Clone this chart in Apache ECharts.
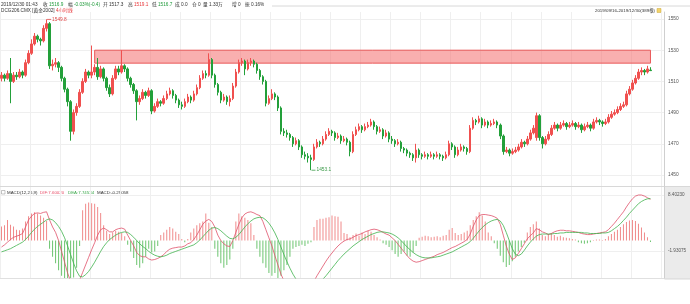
<!DOCTYPE html>
<html><head><meta charset="utf-8">
<script src="https://cdn.jsdelivr.net/npm/echarts@6/dist/echarts.min.js"></script>
<style>html,body{margin:0;padding:0;background:#fff}#c{width:690px;height:304px}</style>
</head><body><div id="c"></div>
<script>
// ---- price data (4-hour candles) ----
const opens = [
1512,1514,1512,1515,1510,1514,1513,1516,1514,1522,
1528,1534,1539,1537,1536,1544,1547,1520,1521,1522,
1519,1512,1505,1497,1478,1490,1494,1503,1510,1516,
1514,1516,1519,1513,1518,1512,1506,1502,1512,1518,
1516,1520,1518,1512,1508,1504,1497,1499,1503,1501,
1504,1491,1494,1497,1496,1499,1502,1504,1501,1498,
1495,1494,1497,1500,1498,1502,1506,1512,1515,1514,
1524,1514,1508,1503,1498,1500,1497,1499,1507,1516,
1522,1523,1518,1522,1523,1521,1517,1513,1510,1496,
1499,1502,1500,1493,1478,1477,1476,1474,1470,1472,
1468,1463,1462,1461,1460,1468,1471,1470,1473,1476,
1478,1477,1474,1475,1472,1473,1471,1465,1476,1479,
1481,1479,1481,1482,1484,1481,1478,1479,1475,1477,
1473,1472,1470,1471,1467,1466,1464,1463,1461,1466,
1463,1462,1463,1462,1463,1462,1463,1462,1461,1463,
1470,1468,1463,1466,1468,1467,1465,1480,1485,1484,
1486,1482,1484,1482,1483,1484,1482,1475,1465,1466,
1464,1465,1466,1468,1471,1470,1473,1477,1474,1488,
1474,1470,1473,1476,1480,1482,1480,1482,1483,1481,
1482,1483,1481,1482,1479,1481,1482,1480,1484,1485,
1484,1483,1484,1487,1489,1490,1492,1494,1495,1502,
1505,1509,1512,1516,1517,1516,1517.3];
const closes = [
1514,1512,1515,1510,1514,1513,1516,1514,1522,1528,
1534,1539,1537,1536,1544,1547,1520,1521,1522,1519,
1512,1505,1497,1478,1490,1494,1503,1510,1516,1514,
1516,1519,1513,1518,1512,1506,1502,1512,1518,1516,
1520,1518,1512,1508,1504,1497,1499,1503,1501,1504,
1491,1494,1497,1496,1499,1502,1504,1501,1498,1495,
1494,1497,1500,1498,1502,1506,1512,1515,1514,1524,
1514,1508,1503,1498,1500,1497,1499,1507,1516,1522,
1523,1518,1522,1523,1521,1517,1513,1510,1496,1499,
1502,1500,1493,1478,1477,1476,1474,1470,1472,1468,
1463,1462,1461,1460,1468,1471,1470,1473,1476,1478,
1477,1474,1475,1472,1473,1471,1465,1476,1479,1481,
1479,1481,1482,1484,1481,1478,1479,1475,1477,1473,
1472,1470,1471,1467,1466,1464,1463,1461,1466,1463,
1462,1463,1462,1463,1462,1463,1462,1461,1463,1470,
1468,1463,1466,1468,1467,1465,1480,1485,1484,1486,
1482,1484,1482,1483,1484,1482,1475,1465,1466,1464,
1465,1466,1468,1471,1470,1473,1477,1480,1488,1474,
1470,1473,1476,1480,1482,1480,1482,1483,1481,1482,
1483,1481,1482,1479,1481,1482,1480,1484,1485,1484,
1483,1484,1487,1489,1490,1492,1494,1495,1502,1505,
1509,1512,1516,1517,1516,1518,1516.9];
const lows = [
1510,1510,1511,1496,1509,1511,1512,1512,1513,1521,
1527,1533,1535,1533,1535,1542,1518,1517,1519,1516,
1510,1503,1494,1472,1476,1488,1493,1502,1509,1512,
1512,1514,1511,1512,1510,1504,1500,1501,1511,1514,
1515,1516,1510,1506,1502,1485,1495,1498,1499,1500,
1489,1490,1493,1494,1495,1498,1501,1499,1496,1493,
1492,1493,1496,1496,1497,1501,1505,1511,1512,1513,
1512,1506,1501,1496,1497,1495,1494,1498,1506,1515,
1520,1514,1517,1520,1519,1515,1511,1508,1494,1495,
1498,1498,1491,1476,1475,1474,1472,1468,1469,1466,
1461,1460,1458,1453.1,1459,1467,1468,1469,1472,1475,
1475,1472,1473,1470,1471,1469,1462,1464,1475,1478,
1477,1478,1480,1481,1479,1476,1477,1473,1474,1471,
1470,1468,1469,1465,1464,1462,1461,1459,1458,1461,
1460,1461,1460,1461,1460,1461,1460,1459,1460,1462,
1466,1461,1462,1465,1465,1463,1464,1479,1482,1483,
1480,1481,1480,1481,1482,1480,1473,1463,1464,1462,
1463,1464,1465,1467,1468,1469,1472,1476,1472,1472,
1467,1469,1472,1475,1479,1478,1479,1481,1479,1480,
1481,1479,1480,1477,1478,1480,1478,1479,1483,1482,
1481,1482,1483,1486,1488,1489,1491,1493,1494,1501,
1504,1508,1511,1514,1514,1515,1516.7];
const highs = [
1516,1515,1517,1525,1516,1516,1518,1517,1524,1530,
1537,1541,1540,1538,1546,1549.8,1548,1524,1525,1523,
1520,1513,1506,1498,1492,1496,1505,1512,1518,1517,
1533,1521,1525,1520,1519,1513,1508,1514,1520,1520,
1530,1521,1519,1513,1509,1505,1501,1505,1504,1506,
1505,1496,1499,1498,1501,1504,1506,1505,1502,1499,
1497,1499,1502,1501,1504,1508,1514,1517,1517,1528,
1525,1515,1509,1504,1502,1501,1501,1509,1518,1524,
1525,1524,1524,1525,1524,1522,1518,1514,1511,1501,
1505,1503,1501,1494,1480,1479,1477,1475,1474,1473,
1469,1465,1464,1463,1470,1473,1472,1475,1478,1480,
1479,1478,1477,1476,1475,1474,1472,1478,1481,1483,
1482,1483,1484,1486,1485,1482,1481,1480,1479,1478,
1475,1473,1473,1472,1468,1467,1465,1464,1470,1467,
1464,1465,1464,1465,1464,1465,1464,1463,1465,1472,
1471,1469,1468,1470,1469,1468,1482,1487,1486,1488,
1487,1486,1485,1485,1486,1485,1483,1476,1468,1467,
1467,1468,1470,1473,1472,1475,1479,1482,1490,1489,
1475,1475,1478,1482,1484,1483,1484,1485,1484,1484,
1485,1484,1484,1483,1483,1484,1483,1486,1487,1486,
1485,1486,1489,1491,1492,1494,1496,1497,1504,1507,
1511,1514,1518,1519,1518,1520,1519.1];

// ---- MACD(12,26,9) ----
const dif = [
-1.2,-0.8,-0.3,0.2,0.6,0.8,1.0,1.3,2.5,3.8,
4.5,5.0,5.1,5.0,5.2,5.3,3.8,2.5,1.5,0.0,
-2.0,-4.0,-6.0,-7.5,-8.5,-8.5,-7.3,-5.9,-4.5,-3.1,
-1.7,-0.4,1.0,2.0,2.3,2.0,1.6,1.6,2.0,2.2,
2.3,2.1,1.0,0.0,-1.0,-2.2,-2.8,-3.0,-3.0,-3.4,
-3.6,-3.5,-3.3,-3.0,-2.6,-2.0,-1.6,-1.4,-1.3,-1.2,
-1.2,-1.0,-0.6,-0.4,0.2,1.0,2.0,3.0,3.6,3.9,
3.5,2.5,1.0,0.0,-0.6,-1.0,-1.1,0.0,1.5,3.0,
4.2,4.9,5.2,5.3,5.1,4.8,4.6,3.5,2.0,0.5,
-1.0,-2.8,-4.5,-6.2,-7.4,-8.0,-8.5,-9.0,-9.2,-9.4,
-9.5,-9.3,-9.0,-8.5,-7.5,-6.5,-5.6,-4.7,-3.8,-3.0,
-2.3,-1.6,-1.0,-0.5,-0.1,0.2,0.3,0.6,0.9,1.1,
1.3,1.6,1.8,2.0,2.1,2.0,1.8,1.5,1.2,1.0,
0.5,0.0,-0.7,-1.4,-2.1,-2.8,-3.4,-3.8,-4.0,-3.9,
-3.7,-3.5,-3.3,-3.1,-2.9,-2.6,-2.4,-2.2,-1.9,-1.6,
-1.3,-1.1,-0.8,-0.5,-0.2,0.2,1.2,2.6,3.8,4.6,
4.8,4.8,4.7,4.6,4.4,4.1,3.0,1.0,-1.0,-2.5,
-3.5,-3.2,-2.4,-1.5,-0.6,0.3,0.9,1.4,2.2,2.0,
1.6,1.4,1.1,1.3,1.6,1.8,1.9,1.9,1.8,1.8,
1.7,1.6,1.5,1.3,1.2,1.1,1.1,1.2,1.3,1.4,
1.5,1.6,2.0,2.6,3.2,3.9,4.6,5.3,6.2,7.0,
7.7,8.2,8.4023,8.4,8.2,7.9,7.60020];
const dea = [
-2.1,-1.9,-1.7,-1.5,-1.2,-0.9,-0.6,-0.3,0.2,0.8,
1.5,2.1,2.6,3.0,3.4,3.8,4.0,3.8,3.3,2.6,
1.7,0.5,-1.0,-2.6,-4.2,-5.6,-6.6,-6.7,-6.3,-5.7,
-4.9,-4.0,-3.0,-2.0,-1.1,-0.4,0.2,0.6,1.0,1.3,
1.5,1.6,1.5,1.1,0.6,0.0,-0.6,-1.1,-1.5,-2.0,
-2.4,-2.7,-2.9,-3.0,-2.9,-2.7,-2.4,-2.2,-2.0,-1.8,
-1.6,-1.4,-1.2,-1.0,-0.8,-0.4,0.1,0.7,1.3,1.9,
2.3,2.4,2.2,1.8,1.3,0.8,0.4,0.3,0.6,1.1,
1.8,2.5,3.1,3.6,4.0,4.2,4.3,4.2,3.8,3.2,
2.4,1.4,0.2,-1.2,-2.6,-3.9,-5.1,-6.2,-7.1,-7.9,
-8.5,-8.9,-9.0,-8.9,-8.6,-8.2,-7.7,-7.1,-6.5,-5.8,
-5.1,-4.4,-3.7,-3.1,-2.5,-2.0,-1.5,-1.0,-0.6,-0.2,
0.2,0.5,0.8,1.1,1.3,1.5,1.6,1.6,1.5,1.4,
1.2,0.9,0.5,0.0,-0.6,-1.2,-1.7,-2.2,-2.6,-2.9,
-3.1,-3.2,-3.2,-3.2,-3.1,-3.0,-2.9,-2.7,-2.5,-2.3,
-2.1,-1.8,-1.5,-1.2,-0.9,-0.6,-0.2,0.4,1.1,1.8,
2.4,2.9,3.3,3.6,3.8,3.9,3.6,2.8,1.5,0.0,
-1.5,-2.5,-2.8,-2.5,-1.8,-1.0,-0.3,0.3,0.8,1.1,
1.2,1.2,1.2,1.2,1.3,1.3,1.4,1.4,1.5,1.5,
1.5,1.5,1.5,1.5,1.4,1.4,1.3,1.3,1.3,1.3,
1.4,1.4,1.5,1.8,2.2,2.6,3.1,3.7,4.3,5.0,
5.6,6.2,6.8,7.2,7.5,7.7,7.74534];
const macdHist = [
2.6,2.8,3.8,2.9,2.6,2.0,1.9,2.2,3.5,4.5,
5.0,5.2,5.0,4.6,4.2,3.6,-1.5,-3.0,-4.2,-5.5,
-6.5,-7.0,-7.5,-7.3,-6.8,-5.0,-1.0,5.6,6.8,7.0,
6.9,6.8,6.2,5.1,2.8,1.8,1.2,1.5,1.8,1.6,
1.4,0.8,-0.8,-2.0,-3.2,-4.5,-5.0,-4.2,-3.0,-1.5,
-2.2,-2.0,-1.0,1.0,1.5,2.0,2.5,2.2,1.6,1.2,
0.3,-0.3,0.3,1.5,2.2,2.8,3.2,3.5,5.0,3.3,
2.5,-1.5,-3.0,-4.2,-5.0,-4.5,-3.5,-1.5,3.5,5.0,
4.5,4.2,3.8,3.2,1.0,-1.5,-3.0,-4.2,-5.0,-6.0,
-6.5,-6.0,-7.0,-6.5,-5.5,-4.5,-3.0,-1.5,-1.2,-1.0,
-0.8,-1.0,-0.6,-0.3,2.5,3.8,4.0,4.0,4.2,4.3,
4.6,4.5,4.4,3.5,1.4,1.2,0.6,1.0,1.3,0.9,
1.5,1.2,1.8,1.6,1.0,0.6,0.2,-0.5,-0.8,-1.2,
-1.8,-2.5,-3.0,-2.5,-2.0,-2.8,-3.0,-2.2,-1.0,0.5,
0.7,0.9,0.8,0.6,0.7,0.8,0.6,0.9,1.0,2.0,
2.3,1.4,1.0,1.2,1.5,1.8,2.8,3.8,4.5,5.2,
4.6,3.5,1.5,0.8,-0.5,-1.5,-2.8,-4.0,-4.9,-4.5,
-3.8,-3.0,-2.0,-1.2,-0.4,1.5,2.5,3.0,3.5,2.2,
1.0,0.8,1.2,1.4,1.0,0.7,0.9,0.6,0.5,0.4,
0.3,0.2,-0.3,-0.5,-0.6,-0.5,-0.3,0.1,0.2,0.2,
0.1,0.3,0.8,1.2,1.6,2.0,2.5,3.0,3.4,3.7,
3.8,3.6,3.1,2.4,1.5,0.6,-0.29058];

const priceTicks = [1450, 1470, 1490, 1510, 1530, 1550];
const macdTicks = [8.40230, -1.93075];
const zonePrices = [1530, 1521.7];   // drawn rectangle
const zoneFrom = 31, zoneTo = 216;    // candle indices of the rectangle
const emptySlots = 4;
const categories = Array.from({length: closes.length + emptySlots}, (_, i) => String(i));

const UP = '#f0504f', DOWN = '#23a03a';
const FONT = "'Liberation Sans','Noto Sans CJK SC',sans-serif";
const GRIDC = '#efefef';

const candles = closes.map((c, i) => [opens[i], c, lows[i], highs[i]]);
const hiIdx = highs.indexOf(Math.max(...highs));
const loIdx = lows.indexOf(Math.min(...lows));

const chart = echarts.init(document.getElementById('c'), null, {renderer: 'canvas'});

function hdrText(x, y, label, value, vColor, fs) {
  return {type: 'text', x: x, y: y, silent: true,
    style: {text: '{k|' + label + '}{v|' + value + '}', fontSize: fs, fontFamily: FONT,
      verticalAlign: 'middle', fill: '#333',
      rich: {k: {fontSize: fs, fontFamily: FONT, fill: '#333'}, v: {fontSize: fs, fontFamily: FONT, fill: vColor}}}};
}
const FS = 4.7, FS2 = 4.4;
const G = '#1f9a3a', R = '#e8373a', K = '#333';
const graphics = [
  {type: 'rect', z: -10, silent: true, shape: {x: 664.5, y: 187, width: 26, height: 93}, style: {fill: '#ebebeb'}},
  {type: 'line', silent: true, shape: {x1: 272, y1: 6, x2: 690, y2: 6}, style: {stroke: '#d8d8d8', lineWidth: 1}},
  {type: 'line', silent: true, shape: {x1: 0, y1: 186.5, x2: 690, y2: 186.5}, style: {stroke: '#d8d8d8', lineWidth: 1}},
  {type: 'line', silent: true, shape: {x1: 0, y1: 278.5, x2: 690, y2: 278.5}, style: {stroke: '#e0e0e0', lineWidth: 1}},
  hdrText(1, 4.5, '2019/12/30 01:43', '', K, FS),
  hdrText(43, 4.5, '收 ', closes[closes.length - 1].toFixed(1), G, FS),
  hdrText(68, 4.5, '幅 ', '-0.03%(-0.4)', G, FS),
  hdrText(103, 4.5, '开 ', opens[opens.length - 1].toFixed(1), K, FS),
  hdrText(128, 4.5, '高 ', highs[highs.length - 1].toFixed(1), R, FS),
  hdrText(152, 4.5, '低 ', lows[lows.length - 1].toFixed(1), G, FS),
  hdrText(175, 4.5, '成 ', '0.0', K, FS),
  hdrText(192, 4.5, '仓 ', '0', K, FS),
  hdrText(203, 4.5, '量 ', '1.33万', K, FS),
  hdrText(232, 4.5, '增 ', '0', K, FS),
  hdrText(245, 4.5, '振 ', '0.16%', K, FS),
  hdrText(1, 11, 'DCG206.CMX [黄金2002] ', '4小时线', R, FS),
  {type: 'text', x: 655, y: 10.5, silent: true,
    style: {text: '2019/09/16-2019/12/30(389根)', fontSize: FS2, fontFamily: FONT, fill: '#333', align: 'right', verticalAlign: 'middle'}},
  {type: 'rect', silent: true, shape: {x: 657, y: 8.5, width: 4, height: 4}, style: {fill: '#f3d46b', stroke: '#c9a73a', lineWidth: 0.5}},
  {type: 'rect', silent: true, shape: {x: 1.5, y: 190.5, width: 3.5, height: 3.5}, style: {fill: '#fff', stroke: '#888', lineWidth: 0.5}},
  hdrText(7, 192.5, 'MACD(12,26,9)', '', K, FS2),
  hdrText(40, 192.5, '', 'DIF:' + dif[dif.length - 1].toFixed(5), '#e8506a', FS2),
  hdrText(68, 192.5, '', 'DEA:' + dea[dea.length - 1].toFixed(5), '#3aa84a', FS2),
  hdrText(97, 192.5, '', 'MACD:' + macdHist[macdHist.length - 1].toFixed(5), K, FS2)
];

const xAxisBase = {
  type: 'category', data: categories, boundaryGap: true,
  axisLine: {show: false}, axisTick: {show: false}, axisLabel: {show: false},
  splitLine: {show: true, interval: 9, lineStyle: {color: GRIDC, width: 1}}
};

chart.setOption({
  animation: false,
  backgroundColor: '#fff',
  graphic: graphics,
  grid: [
    {left: 0, right: 26, top: 12, height: 174},
    {left: 0, right: 26, top: 187, height: 91}
  ],
  xAxis: [
    Object.assign({gridIndex: 0}, xAxisBase),
    Object.assign({gridIndex: 1}, xAxisBase)
  ],
  yAxis: [
    {gridIndex: 0, position: 'right', min: 1442.95, max: 1554.49, scale: true,
      axisLine: {show: true, lineStyle: {color: '#cfcfcf'}},
      axisTick: {show: false, customValues: priceTicks},
      axisLabel: {customValues: priceTicks, fontSize: 4.8, color: '#555', margin: 4, fontFamily: FONT,
        formatter: v => String(v)},
      splitLine: {show: true, lineStyle: {color: GRIDC}}},
    {gridIndex: 1, position: 'right', min: -6.912, max: 9.878,
      axisLine: {show: true, lineStyle: {color: '#cfcfcf'}},
      axisTick: {show: false, customValues: macdTicks},
      axisLabel: {customValues: macdTicks, fontSize: 4.6, color: '#555', margin: 4, fontFamily: FONT,
        formatter: v => v.toFixed(5)},
      splitLine: {show: true, lineStyle: {color: GRIDC}}}
  ],
  series: [
    {type: 'candlestick', xAxisIndex: 0, yAxisIndex: 0, data: candles, barWidth: 2,
      itemStyle: {color: UP, color0: DOWN, borderColor: UP, borderColor0: DOWN, borderWidth: 1},
      markArea: {silent: true,
        itemStyle: {color: 'rgba(244,110,110,0.55)', borderColor: '#ea5a5a', borderWidth: 1},
        data: [[{xAxis: categories[zoneFrom], yAxis: zonePrices[0]}, {xAxis: categories[zoneTo], yAxis: zonePrices[1]}]]},
      markPoint: {silent: true, animation: false,
        data: [
          {coord: [categories[hiIdx], highs[hiIdx]], symbol: 'rect', symbolSize: [4, 0.8], symbolOffset: [2.5, 0],
            itemStyle: {color: '#e04848'},
            label: {show: true, position: 'right', distance: 1, formatter: highs[hiIdx].toFixed(1), color: '#e04848', fontSize: 4.8, fontFamily: FONT}},
          {coord: [categories[loIdx], lows[loIdx]], symbol: 'rect', symbolSize: [4, 0.8], symbolOffset: [2.5, 0],
            itemStyle: {color: '#3a9a48'},
            label: {show: true, position: 'right', distance: 1, formatter: lows[loIdx].toFixed(1), color: '#3a9a48', fontSize: 4.8, fontFamily: FONT}}
        ]}
    },
    {type: 'bar', xAxisIndex: 1, yAxisIndex: 1, data: macdHist, barWidth: 1,
      itemStyle: {color: p => p.value >= 0 ? '#f08a8a' : '#6cc46f'}},
    {type: 'line', xAxisIndex: 1, yAxisIndex: 1, data: dif, symbol: 'none', clip: true,
      lineStyle: {color: '#e0506a', width: 0.8}},
    {type: 'line', xAxisIndex: 1, yAxisIndex: 1, data: dea, symbol: 'none', clip: true,
      lineStyle: {color: '#3fb24d', width: 0.8}}
  ]
});
</script></body></html>
